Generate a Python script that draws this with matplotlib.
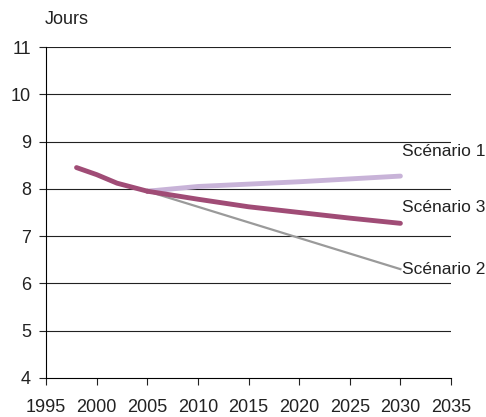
import matplotlib.pyplot as plt

plt.rcParams['font.family'] = ['Liberation Sans', 'DejaVu Sans']

hist_years = [1998, 2000, 2002, 2005]
hist_values = [8.45, 8.30, 8.12, 7.95]

proj_years = [2005, 2010, 2015, 2020, 2025, 2030]
scenario1 = [7.95, 8.05, 8.10, 8.15, 8.21, 8.27]
scenario2 = [7.95, 7.62, 7.29, 6.96, 6.63, 6.30]
scenario3 = [7.95, 7.78, 7.62, 7.50, 7.38, 7.27]

labels = ['Scénario 1', 'Scénario 3', 'Scénario 2']
label_y = [8.78, 7.60, 6.29]

fig = plt.figure(figsize=(4.86, 4.17), dpi=100)
ax = fig.add_axes([0.095, 0.094, 0.833, 0.793])

for y in range(5, 12):
    ax.axhline(y, color='#222222', lw=0.8, zorder=1)

ax.plot(proj_years, scenario2, color='#9a9a9a', lw=1.6, zorder=2)
ax.plot(proj_years, scenario1, color='#c8b3d8', lw=3.5, solid_capstyle='round', zorder=3)
ax.plot(proj_years, scenario3, color='#a04c76', lw=3.5, solid_capstyle='round', zorder=4)
ax.plot(hist_years, hist_values, color='#a04c76', lw=3.5, solid_capstyle='round', zorder=4)

for lab, y in zip(labels, label_y):
    ax.text(2030.2, y, lab, fontsize=12.5, va='center', ha='left', color='#222222')

ax.set_xlim(1995, 2035)
ax.set_ylim(4, 11)
ax.set_xticks(range(1995, 2036, 5))
ax.set_yticks(range(4, 12))
ax.tick_params(axis='both', labelsize=13, length=5, width=0.8, color='#222222', labelcolor='#222222')
ax.tick_params(axis='x', pad=10)
ax.tick_params(axis='y', pad=6)
ax.spines['top'].set_visible(False)
ax.spines['right'].set_visible(False)
ax.spines['left'].set_linewidth(0.8)
ax.spines['bottom'].set_linewidth(0.8)

fig.text(0.091, 0.933, 'Jours', fontsize=13, color='#222222', ha='left', va='bottom')

fig.savefig('out.png', dpi=100)
